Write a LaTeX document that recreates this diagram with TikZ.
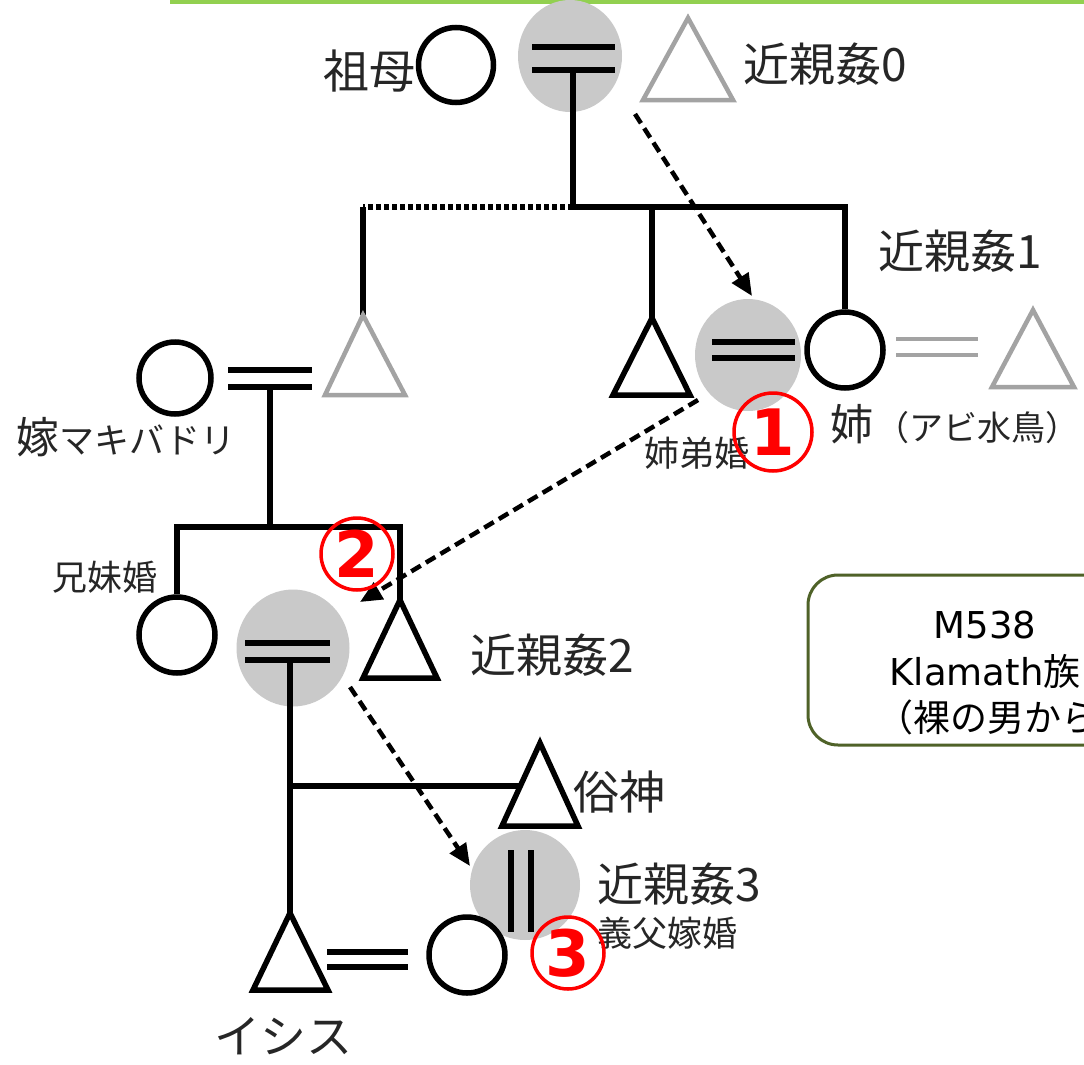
\documentclass[tikz,border=0pt]{standalone}
\usepackage{fontspec}
\newfontfamily\jp{Noto Sans CJK JP}
\newfontfamily\dv{DejaVu Sans}
\usetikzlibrary{arrows.meta,shapes.geometric}
\definecolor{bub}{HTML}{C9C9C9}
\definecolor{gry}{HTML}{A3A3A3}
\definecolor{olive}{HTML}{4F6228}
\definecolor{topgreen}{HTML}{92D050}
\definecolor{txt}{HTML}{262626}
\tikzset{
  ln/.style={line width=5.5pt, draw=black, line join=miter},
  gln/.style={line width=4.5pt, draw=gry, line join=miter},
  person/.style={circle, draw=black, line width=5.5pt, fill=white, minimum size=#1, inner sep=0pt},
  bubble/.style={ellipse, fill=bub, inner sep=0pt},
  darr/.style={line width=4.5pt, dash pattern=on 11pt off 6pt, -{Triangle[length=22pt,width=19pt]}},
  dotline/.style={line width=6pt, dash pattern=on 5pt off 3pt},
  lbl/.style={font=\jp\fontsize{46}{50}\selectfont, text=txt, inner sep=0pt},
  slbl/.style={font=\jp\fontsize{35}{38}\selectfont, text=txt, inner sep=0pt},
  num/.style={circle, draw=red, line width=3.5pt, text=red, minimum size=#1, inner sep=0pt, font=\dv\bfseries\fontsize{64}{64}\selectfont},
  boxst/.style={draw=olive, line width=3pt, rounded corners=30pt, fill=white},
  boxtxt/.style={font=\dv\fontsize{37}{40}\selectfont, text=black, inner sep=0pt},
}
\begin{document}
\begin{tikzpicture}[x=1pt,y=-1pt]
\useasboundingbox (0,0) rectangle (1084,1065);
\fill[white] (0,0) rectangle (1084,1065);
% top green rule
\fill[topgreen] (170,0) rectangle (1084,4);

% ---------- bubbles (background) ----------
\node[bubble, minimum width=104pt, minimum height=112pt] (b0) at (570,56) {};
\node[bubble, minimum width=106pt, minimum height=112pt] (b1) at (748,355) {};
\node[bubble, minimum width=113pt, minimum height=117pt] (b2) at (293,648) {};
\node[bubble, minimum width=110pt, minimum height=110pt] (b3) at (525,885) {};

% ---------- generation 0 ----------
\coordinate (m0a) at (532,47); \coordinate (m0b) at (615,47);
\coordinate (m0c) at (532,70); \coordinate (m0d) at (615,70);
\coordinate (m0) at (573,70);
\coordinate (s0) at (573,207);
\draw[ln] (m0a) -- (m0b);
\draw[ln] (m0c) -- (m0d);
\draw[ln] (m0) -- (s0);
\node[person=75pt] (gm) at (456,65) {};
\coordinate (gf) at (688,18);
\draw[gln] (gf) -- (733,100) -- (643,100) -- cycle;
\node[lbl, anchor=east] (lgm) at (416,71) {祖母};
\node[lbl, anchor=west] (l0) at (743,64) {近親姦0};

% ---------- generation 1 ----------
\node[person=76pt] (sis) at (845,350) {};
\coordinate (bro) at (652,318);
\coordinate (unc) at (363,315);
\coordinate (s0l) at (363,207);
\coordinate (s0m) at (652,207);
\draw[ln] (s0) -| (sis.north);
\draw[ln] (s0m) -- (bro);
\draw[dotline] (s0) -- (s0l);
\draw[ln] (s0l) -- (unc);
\draw[ln] (bro) -- (690,395) -- (613,395) -- cycle;
\draw[gln] (unc) -- (405,395) -- (325,395) -- cycle;
% marriage 1
\coordinate (m1a) at (712,342); \coordinate (m1b) at (795,342);
\coordinate (m1c) at (712,358); \coordinate (m1d) at (795,358);
\draw[ln] (m1a) -- (m1b);
\draw[ln] (m1c) -- (m1d);
% sister's other husband
\coordinate (g1a) at (896,339); \coordinate (g1b) at (978,339);
\coordinate (g1c) at (896,355); \coordinate (g1d) at (978,355);
\draw[gln] (g1a) -- (g1b);
\draw[gln] (g1c) -- (g1d);
\coordinate (hus) at (1033,310);
\draw[gln] (hus) -- (1074,387) -- (992,387) -- cycle;
% bride and uncle
\node[person=72pt] (bride) at (175,378) {};
\coordinate (mba) at (228,370); \coordinate (mbb) at (312,370);
\coordinate (mbc) at (228,387); \coordinate (mbd) at (312,387);
\coordinate (mb) at (270,387);
\coordinate (s1) at (270,527);
\draw[ln] (mba) -- (mbb);
\draw[ln] (mbc) -- (mbd);
\draw[ln] (mb) -- (s1);
\node[lbl, anchor=west] (l1) at (878,251) {近親姦1};
\node[anchor=west, inner sep=0pt, text=txt] (lsis) at (830,424) {{\jp\fontsize{43}{46}\selectfont 姉}\hspace{2pt}{\jp\fontsize{34}{36}\selectfont （アビ水鳥）}};
\node[slbl, anchor=west] (lsb) at (644,453) {姉弟婚};
\node[anchor=west, inner sep=0pt, text=txt] (lbride) at (16,437) {{\jp\fontsize{43}{46}\selectfont 嫁}{\jp\fontsize{35}{38}\selectfont マキバドリ}};

% ---------- generation 2 ----------
\node[person=76pt] (girl) at (177,635) {};
\coordinate (boy) at (400,600);
\coordinate (s1r) at (400,527);
\draw[ln] (girl.north) |- (s1r) -- (boy);
\draw[ln] (boy) -- (437,678) -- (363,678) -- cycle;
\coordinate (m2a) at (245,643); \coordinate (m2b) at (330,643);
\coordinate (m2c) at (245,660); \coordinate (m2d) at (330,660);
\coordinate (m2) at (290,660);
\coordinate (isis) at (290,913);
\coordinate (j2) at (290,786);
\coordinate (zok) at (540,743);
\coordinate (j2r) at (520,786);
\draw[ln] (m2a) -- (m2b);
\draw[ln] (m2c) -- (m2d);
\draw[ln] (m2) -- (isis);
\draw[ln] (j2) -- (j2r);
\draw[ln] (zok) -- (578,826) -- (502,826) -- cycle;
\node[slbl, anchor=west] (lbs) at (52,577) {兄妹婚};
\node[lbl, anchor=west] (l2) at (470,655) {近親姦2};
\node[lbl, anchor=west] (lzok) at (573,792) {俗神};

% ---------- generation 3 ----------
\draw[ln] (isis) -- (328,990) -- (253,990) -- cycle;
\coordinate (m3a) at (327,952); \coordinate (m3b) at (408,952);
\coordinate (m3c) at (327,967); \coordinate (m3d) at (408,967);
\draw[ln] (m3a) -- (m3b);
\draw[ln] (m3c) -- (m3d);
\node[person=76pt] (wife) at (467,955) {};
\coordinate (v3a) at (511,850); \coordinate (v3b) at (511,932);
\coordinate (v3c) at (531,850); \coordinate (v3d) at (531,932);
\draw[ln] (v3a) -- (v3b);
\draw[ln] (v3c) -- (v3d);
\node[lbl, anchor=west] (l3) at (597,884) {近親姦3};
\node[slbl, anchor=west] (lfy) at (597,933) {義父嫁婚};
\node[lbl, anchor=west] (lisis) at (214,1036) {イシス};

% ---------- dashed arrows ----------
\coordinate (a0s) at (635,114); \coordinate (a0e) at (752,296);
\coordinate (a1s) at (698,400); \coordinate (a1e) at (360,602);
\coordinate (a2s) at (350,687); \coordinate (a2e) at (470,866);
\draw[darr] (a0s) -- (a0e);
\draw[darr] (a1s) -- (a1e);
\draw[darr] (a2s) -- (a2e);

% ---------- circled numbers ----------
\node[num=78pt] (n1) at (773,432) {1};
\node[num=72pt] (n2) at (357,554) {2};
\node[num=72pt] (n3) at (568,953) {3};

% ---------- box ----------
\begin{scope}
\clip (0,0) rectangle (1084,1065);
\draw[boxst] (808,575) rectangle (1162,745);
\node[boxtxt, anchor=center] (bt1) at (985,625) {M538};
\node[boxtxt, anchor=center] (bt2) at (985,671) {Klamath{\jp 族}};
\node[boxtxt, anchor=west] (bt3) at (876,717) {\jp （裸の男から};
\end{scope}
\end{tikzpicture}
\end{document}
